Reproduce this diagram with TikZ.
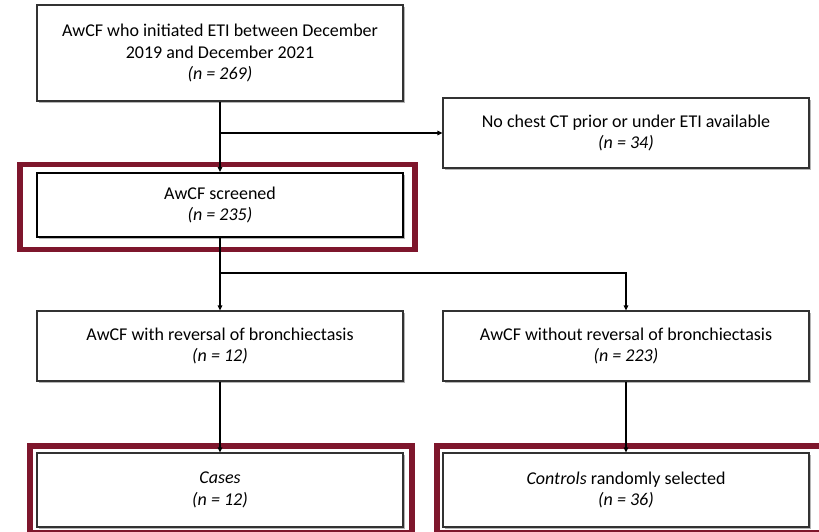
\documentclass[tikz,border=0pt]{standalone}
\usepackage{fontspec}
\setmainfont{Carlito}
\usepackage{tikz}
\usetikzlibrary{arrows.meta,positioning,shadows}
\definecolor{fcedge}{RGB}{50,50,50}
\definecolor{fchl}{RGB}{126,22,44}
\definecolor{fcshade}{RGB}{150,150,150}
\tikzset{
  fcbox/.style={
    draw=fcedge, line width=1.1pt, fill=white, align=center,
    inner sep=0pt, minimum width=366pt, font=\fontsize{18}{21.5}\selectfont,
    drop shadow={shadow xshift=1.6pt, shadow yshift=-1.6pt, fill=fcshade, opacity=0.7}
  },
  selbox/.style={fcbox, draw=black, line width=2pt},
  hl/.style={draw=fchl, line width=5.8pt},
  arr/.style={-{Triangle[length=5pt,width=4.5pt]}, draw=black, line width=1.5pt},
  link/.style={draw=black, line width=1.5pt}
}
\begin{document}
\begin{tikzpicture}[x=1pt,y=-1pt]
  \useasboundingbox (0,0) rectangle (819,531);
  % boxes, in pixel coordinates of the flow chart
  \node[fcbox, minimum height=96pt] (start) at (220,53)
    {AwCF who initiated ETI between December\\2019 and December 2021\\\textit{(n = 269)}};
  \node[fcbox, minimum height=70pt] (nochest) at (626,133)
    {No chest CT prior or under ETI available\\\textit{(n = 34)}};
  \node[selbox, minimum height=64pt] (screened) at (220,205)
    {AwCF screened\\\textit{(n = 235)}};
  \node[fcbox, minimum height=70pt] (rev) at (220,346)
    {AwCF with reversal of bronchiectasis\\\textit{(n = 12)}};
  \node[fcbox, minimum height=70pt] (norev) at (626,346)
    {AwCF without reversal of bronchiectasis\\\textit{(n = 223)}};
  \node[fcbox, minimum height=74pt] (cases) at (220,490)
    {\textit{Cases}\\\textit{(n = 12)}};
  \node[fcbox, minimum height=74pt] (controls) at (626,490)
    {\textit{Controls} randomly selected\\\textit{(n = 36)}};
  % highlight frames
  \draw[hl] (20,164.5) rectangle (415,249.5);
  \draw[hl] (30,446) rectangle (412,533);
  \draw[hl] (437,446) rectangle (822,533);
  % connectors
  \coordinate (excl) at (start.south |- nochest.west);
  \coordinate (split) at (220,273);
  \draw[arr] (start) -- (screened);
  \draw[arr] (excl) -- (nochest.west);
  \draw[link] (screened) -- (split);
  \draw[arr] (split) -- (rev);
  \draw[arr] (split) -| (norev.north);
  \draw[arr] (rev) -- (cases);
  \draw[arr] (norev) -- (controls);
\end{tikzpicture}
\end{document}
